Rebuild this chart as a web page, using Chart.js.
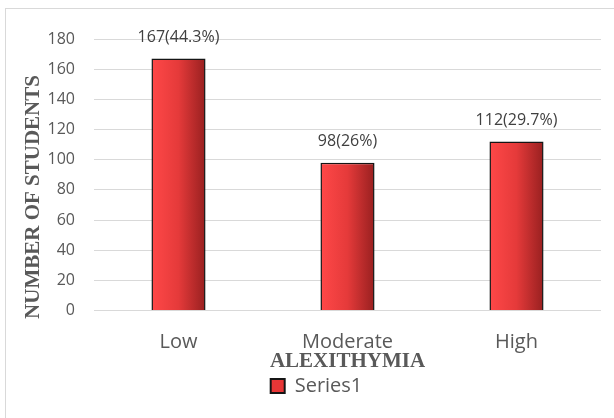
<!DOCTYPE html>
<html>
<head>
<meta charset="utf-8">
<script src="https://cdn.jsdelivr.net/npm/chart.js@4.4.0/dist/chart.umd.min.js"></script>
<style>
  html, body { margin: 0; padding: 0; background: #fff; }
  #wrap { width: 614px; height: 418px; position: relative; }
</style>
</head>
<body>
<div id="wrap"><canvas id="chart" width="614" height="418"></canvas></div>
<script>
// data
const categories = ['Low', 'Moderate', 'High'];
const students = [167, 98, 112];
const percents = ['44.3', '26', '29.7'];
const yTicks = [0, 20, 40, 60, 80, 100, 120, 140, 160, 180];

const xTitle = 'ALEXITHYMIA';
const yTitle = 'NUMBER OF STUDENTS';
const barPct = 0.32;

// fondo y marco
const framePlugin = {
    id: 'frame',
    beforeDraw(chart) {
        const c = chart.ctx;
        c.save();
        c.fillStyle = '#fff';
        c.fillRect(0, 0, chart.width, chart.height);
        c.strokeStyle = '#D9D9D9';
        c.lineWidth = 1;
        c.strokeRect(5.5, 8.5, chart.width + 10, chart.height + 10);
        c.restore();
    }
};

// etiquetas encima de las barras + titulo del eje y
const labelPlugin = {
    id: 'barLabels',
    afterDatasetsDraw(chart) {
        const c = chart.ctx;
        const meta = chart.getDatasetMeta(0);
        c.save();
        c.font = '16px "Open Sans"';
        c.fillStyle = '#404040';
        c.textAlign = 'center';
        c.textBaseline = 'middle';
        meta.data.forEach((bar, i) => {
            c.fillText(students[i] + '(' + percents[i] + '%)', bar.x, bar.y - 21);
        });
        c.restore();
    },
    afterDraw(chart) {
        const c = chart.ctx;
        c.save();
        c.translate(34, 197);
        c.rotate(-Math.PI / 2);
        c.font = 'bold 21px "Liberation Serif"';
        c.fillStyle = '#595959';
        c.textAlign = 'center';
        c.textBaseline = 'middle';
        c.fillText(yTitle, 0, 0);
        c.restore();
    }
};

function barFill(ctx) {
    const chart = ctx.chart;
    if (!chart.chartArea || ctx.type !== 'data') return '#E83838';
    const xs = chart.scales.x;
    const x = xs.getPixelForValue(ctx.dataIndex);
    const half = xs.width / categories.length * barPct / 2;
    const g = chart.ctx.createLinearGradient(x - half, 0, x + half, 0);
    g.addColorStop(0, '#FF4848');
    g.addColorStop(0.5, '#E53A3A');
    g.addColorStop(1, '#982020');
    return g;
}

new Chart(document.getElementById('chart'), {
    type: 'bar',
    data: {
        labels: categories,
        datasets: [{
            label: 'Series1',
            data: students,
            backgroundColor: barFill,
            borderColor: '#151515',
            borderWidth: 1.5,
            categoryPercentage: 1,
            barPercentage: barPct
        }]
    },
    plugins: [framePlugin, labelPlugin],
    options: {
        responsive: false,
        animation: false,
        layout: { padding: { top: 39, right: 13, left: 32, bottom: 12 } },
        plugins: {
            tooltip: { enabled: false },
            legend: {
                position: 'bottom',
                labels: {
                    font: { family: 'Open Sans', size: 20 },
                    color: '#595959',
                    boxWidth: 14,
                    boxHeight: 14,
                    padding: 4,
                    generateLabels: () => [{
                        text: 'Series1',
                        fillStyle: '#E83636',
                        strokeStyle: '#151515',
                        lineWidth: 2,
                        fontColor: '#595959',
                        datasetIndex: 0
                    }]
                }
            }
        },
        scales: {
            x: {
                grid: { display: false, drawTicks: false },
                border: { display: false },
                ticks: {
                    font: { family: 'Open Sans', size: 20 },
                    color: '#595959',
                    padding: 20
                },
                title: {
                    display: true,
                    text: xTitle,
                    font: { family: 'Liberation Serif', size: 21, weight: 'bold', lineHeight: 1 },
                    color: '#595959',
                    padding: 0
                },
                afterFit: s => { s.height = 61.5; }
            },
            y: {
                min: yTicks[0],
                max: yTicks[yTicks.length - 1],
                grid: { color: '#D9D9D9', drawTicks: false },
                border: { display: false },
                ticks: {
                    stepSize: yTicks[1] - yTicks[0],
                    font: { family: 'Open Sans', size: 16 },
                    color: '#595959',
                    padding: 19
                },
                afterFit: s => { s.width = 62; }
            }
        }
    }
});
</script>
</body>
</html>
